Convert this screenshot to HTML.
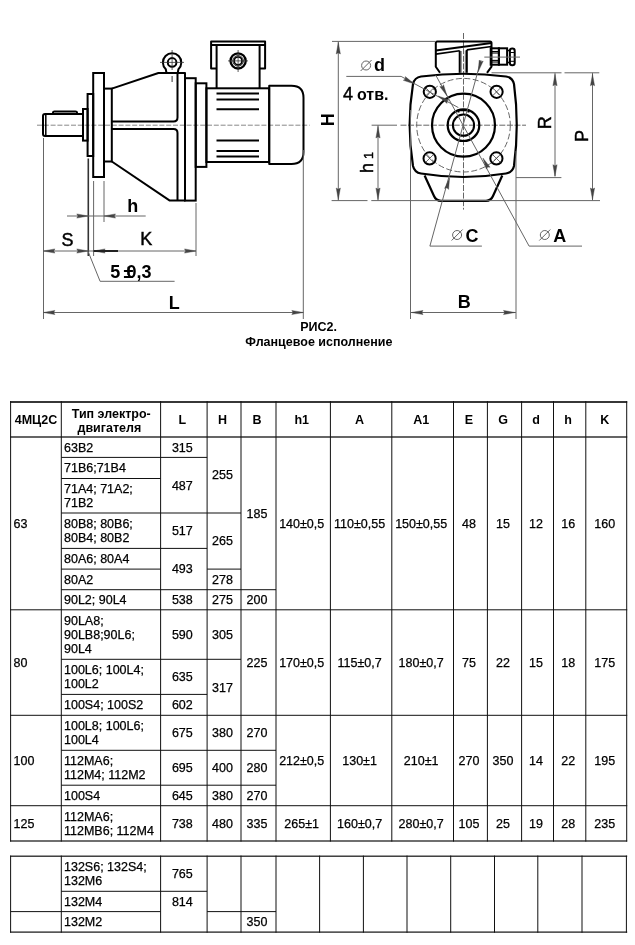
<!DOCTYPE html>
<html><head><meta charset="utf-8"><style>
html,body{margin:0;padding:0;background:#fff;}
svg{display:block;font-family:"Liberation Sans",sans-serif;will-change:transform;}
</style></head><body>
<svg width="635" height="945" viewBox="0 0 635 945">
<rect width="635" height="945" fill="#fff"/>
<line x1="37" y1="125.2" x2="309.6" y2="125.2" stroke="#888" stroke-width="1" stroke-dasharray="5 1.8"/>
<path d="M45,114 L83,114 L83,136 L45,136 Q43,136 43,134 L43,116 Q43,114 45,114 Z" fill="none" stroke="#000" stroke-width="2" stroke-linejoin="round" />
<line x1="45.8" y1="115" x2="45.8" y2="135" stroke="#000" stroke-width="1.5" />
<path d="M53,114 L53,112.5 Q53,111.5 54.5,111.5 L75.5,111.5 Q77,111.5 77,112.5 L77,114" fill="none" stroke="#000" stroke-width="2" stroke-linejoin="round" />
<rect x="83" y="109" width="4.6" height="31.6" fill="none" stroke="#000" stroke-width="2"/>
<rect x="87.6" y="94" width="5.6" height="62" fill="none" stroke="#000" stroke-width="2"/>
<rect x="93.2" y="73" width="10.8" height="104" fill="none" stroke="#000" stroke-width="2"/>
<rect x="104" y="88.6" width="7.8" height="72.9" fill="none" stroke="#000" stroke-width="2"/>
<path d="M111.8,88.6 L158.4,73 L185,73 L185,200.6 L169.8,200.6 L111.8,161.5" fill="none" stroke="#000" stroke-width="2" stroke-linejoin="round" />
<path d="M177.5,73 L177.5,117.5 Q177.5,121.5 173.5,121.5 L111.8,121.5" fill="none" stroke="#000" stroke-width="2" stroke-linejoin="round" />
<path d="M111.8,129 L173.5,129 Q177.5,129 177.5,133 L177.5,200.6" fill="none" stroke="#000" stroke-width="2" stroke-linejoin="round" />
<rect x="185" y="78.2" width="10.7" height="122.4" fill="none" stroke="#000" stroke-width="2"/>
<rect x="195.7" y="83.3" width="10.7" height="83.6" fill="none" stroke="#000" stroke-width="2"/>
<rect x="206.4" y="88.3" width="62.8" height="73.7" fill="none" stroke="#000" stroke-width="2"/>
<line x1="216.5" y1="93.5" x2="259" y2="93.5" stroke="#000" stroke-width="2" />
<line x1="216.5" y1="99.5" x2="259" y2="99.5" stroke="#000" stroke-width="2" />
<line x1="216.5" y1="109.2" x2="259" y2="109.2" stroke="#000" stroke-width="2" />
<line x1="216.5" y1="140.6" x2="259" y2="140.6" stroke="#000" stroke-width="2" />
<line x1="216.5" y1="151" x2="259" y2="151" stroke="#000" stroke-width="2" />
<line x1="216.5" y1="156.6" x2="259" y2="156.6" stroke="#000" stroke-width="2" />
<path d="M269.2,85.8 L291.5,85.8 Q303.5,85.8 303.5,97.8 L303.5,152 Q303.5,164 291.5,164 L269.2,164 Z" fill="none" stroke="#000" stroke-width="2" stroke-linejoin="round" />
<path d="M216.6,68.6 L211.1,68.6 L211.1,41.4 L265.1,41.4 L265.1,68.6 L259.6,68.6" fill="none" stroke="#000" stroke-width="2" stroke-linejoin="round" />
<line x1="211.1" y1="44.9" x2="265.1" y2="44.9" stroke="#000" stroke-width="2" />
<line x1="216.6" y1="44.9" x2="216.6" y2="88.3" stroke="#000" stroke-width="2" />
<line x1="259.6" y1="44.9" x2="259.6" y2="88.3" stroke="#000" stroke-width="2" />
<circle cx="238.1" cy="60.9" r="7.6" fill="none" stroke="#000" stroke-width="2.3" />
<circle cx="238.1" cy="60.9" r="5.3" fill="none" stroke="#000" stroke-width="0.8" />
<circle cx="238.1" cy="60.9" r="3.9" fill="none" stroke="#000" stroke-width="1.7" />
<line x1="228" y1="60.9" x2="248" y2="60.9" stroke="#333" stroke-width="0.8" />
<line x1="238.1" y1="50" x2="238.1" y2="72" stroke="#333" stroke-width="0.8" />
<path d="M166.5,73 L165.8,69.2 A9.2,9.2 0 1 1 178.4,69.2 L177.7,73" fill="none" stroke="#000" stroke-width="2" stroke-linejoin="round" />
<circle cx="172.1" cy="62.4" r="4.3" fill="none" stroke="#000" stroke-width="2" />
<line x1="160" y1="62.4" x2="184" y2="62.4" stroke="#333" stroke-width="0.8" />
<line x1="172.1" y1="50" x2="172.1" y2="70" stroke="#333" stroke-width="0.8" />
<line x1="172.1" y1="76" x2="172.1" y2="82" stroke="#333" stroke-width="1" />
<line x1="43.5" y1="138" x2="43.5" y2="319" stroke="#666" stroke-width="1" />
<line x1="93.6" y1="181" x2="93.6" y2="256" stroke="#666" stroke-width="1" />
<line x1="104" y1="181" x2="104" y2="222" stroke="#666" stroke-width="1" />
<line x1="196" y1="203" x2="196" y2="256" stroke="#666" stroke-width="1" />
<line x1="303.3" y1="150" x2="303.3" y2="319" stroke="#666" stroke-width="1" />
<line x1="88.3" y1="158.5" x2="88.3" y2="256" stroke="#333" stroke-width="1.6" />
<line x1="67" y1="216" x2="145.7" y2="216" stroke="#666" stroke-width="1" />
<path d="M88.3,216.0 L76.8,218.1 L78.0,216.0 L76.8,213.9 Z" fill="#444" stroke="#444" stroke-width="0.4"/>
<path d="M104.0,216.0 L115.5,213.9 L114.3,216.0 L115.5,218.1 Z" fill="#444" stroke="#444" stroke-width="0.4"/>
<line x1="43.4" y1="251" x2="196" y2="251" stroke="#666" stroke-width="1" />
<path d="M43.4,251.0 L54.9,248.9 L53.7,251.0 L54.9,253.1 Z" fill="#444" stroke="#444" stroke-width="0.4"/>
<path d="M88.3,251.0 L76.8,253.1 L78.0,251.0 L76.8,248.9 Z" fill="#444" stroke="#444" stroke-width="0.4"/>
<path d="M93.6,251.0 L105.1,248.9 L103.9,251.0 L105.1,253.1 Z" fill="#444" stroke="#444" stroke-width="0.4"/>
<path d="M196.0,251.0 L184.5,253.1 L185.7,251.0 L184.5,248.9 Z" fill="#444" stroke="#444" stroke-width="0.4"/>
<line x1="93.6" y1="251" x2="118" y2="251" stroke="#222" stroke-width="2" />
<line x1="43.4" y1="312.5" x2="303.3" y2="312.5" stroke="#666" stroke-width="1" />
<path d="M43.4,312.5 L54.9,310.4 L53.7,312.5 L54.9,314.6 Z" fill="#444" stroke="#444" stroke-width="0.4"/>
<path d="M303.3,312.5 L291.8,314.6 L293.0,312.5 L291.8,310.4 Z" fill="#444" stroke="#444" stroke-width="0.4"/>
<path d="M88.3,252 L100.1,281.3 L174.6,281.3" fill="none" stroke="#666" stroke-width="1" stroke-linejoin="round" />
<text x="0" y="0" font-size="18" font-weight="normal" text-anchor="start" fill="#000" transform="translate(61.6,245.7) scale(1,1.05)" stroke="#000" stroke-width="0.45">S</text>
<text x="0" y="0" font-size="18" font-weight="normal" text-anchor="start" fill="#000" transform="translate(140.2,245.4) scale(1,1.05)" stroke="#000" stroke-width="0.45">K</text>
<text x="0" y="0" font-size="18" font-weight="bold" text-anchor="start" fill="#000" transform="translate(127.2,211.9) scale(1,1.05)">h</text>
<text x="0" y="0" font-size="18" font-weight="bold" text-anchor="start" fill="#000" transform="translate(168.7,308.9) scale(1,1.05)">L</text>
<text x="0" y="0" font-size="18" font-weight="bold" text-anchor="start" fill="#000" transform="translate(110.3,278.1) scale(1,1.05)">5</text>
<text x="0" y="0" font-size="18" font-weight="bold" text-anchor="start" fill="#000" transform="translate(126.4,278.1) scale(1,1.05)">0,3</text>
<text x="0" y="0" font-size="18" font-weight="bold" text-anchor="start" fill="#000" transform="translate(123.6,278.1) scale(1,1.05)">±</text>
<line x1="463.5" y1="33" x2="463.5" y2="209.6" stroke="#666" stroke-width="1" stroke-dasharray="6 1.6"/>
<line x1="371.6" y1="125.2" x2="397" y2="125.2" stroke="#666" stroke-width="1" />
<line x1="400.5" y1="125.2" x2="526" y2="125.2" stroke="#666" stroke-width="1" stroke-dasharray="6 1.6"/>
<circle cx="463.5" cy="125.2" r="46.8" fill="none" stroke="#666" stroke-width="1" stroke-dasharray="6 2.5"/>
<path d="M421,76.5 Q463.5,71 506,76.5 Q512.5,77.5 514,84 Q519.5,125 514,166 Q512.5,172.5 506,173.5 Q463.5,180.5 421,173.5 Q414.5,172.5 413,166 Q406.3,125 413,84 Q414.5,77.5 421,76.5 Z" fill="none" stroke="#000" stroke-width="2.2" stroke-linejoin="round" />
<path d="M424.6,175.5 L434,196 Q436,200.8 441,200.8 L486,200.8 Q491,200.8 493,196 L502.3,175.5" fill="none" stroke="#000" stroke-width="2.2" stroke-linejoin="round" />
<circle cx="429.8" cy="91.8" r="6.1" fill="none" stroke="#000" stroke-width="2" />
<line x1="425.8" y1="87.8" x2="433.8" y2="95.8" stroke="#444" stroke-width="0.8" />
<line x1="425.8" y1="95.8" x2="433.8" y2="87.8" stroke="#444" stroke-width="0.8" />
<circle cx="496.6" cy="91.8" r="6.1" fill="none" stroke="#000" stroke-width="2" />
<line x1="492.6" y1="87.8" x2="500.6" y2="95.8" stroke="#444" stroke-width="0.8" />
<line x1="492.6" y1="95.8" x2="500.6" y2="87.8" stroke="#444" stroke-width="0.8" />
<circle cx="429.6" cy="158.4" r="6.1" fill="none" stroke="#000" stroke-width="2" />
<line x1="425.6" y1="154.4" x2="433.6" y2="162.4" stroke="#444" stroke-width="0.8" />
<line x1="425.6" y1="162.4" x2="433.6" y2="154.4" stroke="#444" stroke-width="0.8" />
<circle cx="496.4" cy="158.4" r="6.1" fill="none" stroke="#000" stroke-width="2" />
<line x1="492.4" y1="154.4" x2="500.4" y2="162.4" stroke="#444" stroke-width="0.8" />
<line x1="492.4" y1="162.4" x2="500.4" y2="154.4" stroke="#444" stroke-width="0.8" />
<circle cx="463.5" cy="125.2" r="31.5" fill="none" stroke="#000" stroke-width="2.2" />
<circle cx="463.5" cy="125.2" r="15.8" fill="none" stroke="#000" stroke-width="2.2" />
<circle cx="463.5" cy="125.2" r="10.6" fill="none" stroke="#000" stroke-width="2" />
<path d="M458.5,112.5 L458.5,110.3 L468.5,110.3 L468.5,112.5" fill="none" stroke="#000" stroke-width="2" stroke-linejoin="round" />
<path d="M440,72.8 L435.8,66.7 L435.8,43 Q435.8,41.5 437.3,41.5 L490,41.5 Q491.5,41.5 491.5,43 L491.5,66.7 L487,72.8" fill="none" stroke="#000" stroke-width="2" stroke-linejoin="round" />
<line x1="435.8" y1="50.6" x2="491.5" y2="43" stroke="#000" stroke-width="2" />
<line x1="435.8" y1="54.1" x2="459.7" y2="50.8" stroke="#000" stroke-width="1.6" />
<line x1="466.8" y1="49.9" x2="491.5" y2="46.5" stroke="#000" stroke-width="1.6" />
<line x1="459.7" y1="50.8" x2="459.7" y2="72.8" stroke="#000" stroke-width="2" />
<line x1="466.8" y1="49.9" x2="466.8" y2="72.8" stroke="#000" stroke-width="2" />
<line x1="461.2" y1="51" x2="461.2" y2="72.8" stroke="#444" stroke-width="0.8" />
<line x1="465.3" y1="50.5" x2="465.3" y2="72.8" stroke="#444" stroke-width="0.8" />
<rect x="490.7" y="48.3" width="8.2" height="16.4" fill="none" stroke="#000" stroke-width="2"/>
<rect x="498.9" y="48.3" width="8.2" height="16.4" fill="none" stroke="#000" stroke-width="2"/>
<line x1="490.7" y1="51.5" x2="498.9" y2="51.5" stroke="#000" stroke-width="1.1" />
<line x1="490.7" y1="53" x2="498.9" y2="53" stroke="#000" stroke-width="1.1" />
<line x1="490.7" y1="60.4" x2="498.9" y2="60.4" stroke="#000" stroke-width="1.1" />
<line x1="490.7" y1="62" x2="498.9" y2="62" stroke="#000" stroke-width="1.1" />
<line x1="507.1" y1="50.5" x2="509.9" y2="50.5" stroke="#000" stroke-width="1.6" />
<line x1="507.1" y1="62.5" x2="509.9" y2="62.5" stroke="#000" stroke-width="1.6" />
<rect x="509.9" y="48.6" width="4.8" height="16.7" rx="2.3" fill="none" stroke="#000" stroke-width="2"/>
<line x1="509.9" y1="52.5" x2="514.7" y2="52.5" stroke="#000" stroke-width="1" />
<line x1="509.9" y1="61.3" x2="514.7" y2="61.3" stroke="#000" stroke-width="1" />
<line x1="484.3" y1="57.1" x2="520" y2="57.1" stroke="#666" stroke-width="1" />
<line x1="332" y1="41.4" x2="436" y2="41.4" stroke="#666" stroke-width="1" />
<line x1="338.3" y1="41.4" x2="338.3" y2="200.5" stroke="#666" stroke-width="1" />
<path d="M338.3,42.5 L340.4,54.0 L338.3,52.8 L336.2,54.0 Z" fill="#444" stroke="#444" stroke-width="0.4"/>
<path d="M338.3,199.5 L336.2,188.0 L338.3,189.2 L340.4,188.0 Z" fill="#444" stroke="#444" stroke-width="0.4"/>
<line x1="331.6" y1="200.6" x2="367.5" y2="200.6" stroke="#666" stroke-width="1" />
<line x1="371.3" y1="200.6" x2="600" y2="200.6" stroke="#666" stroke-width="1" />
<line x1="378" y1="125.2" x2="378" y2="200.5" stroke="#666" stroke-width="1" />
<path d="M378.0,126.5 L380.1,138.0 L378.0,136.8 L375.9,138.0 Z" fill="#444" stroke="#444" stroke-width="0.4"/>
<path d="M378.0,199.5 L375.9,188.0 L378.0,189.2 L380.1,188.0 Z" fill="#444" stroke="#444" stroke-width="0.4"/>
<line x1="491.5" y1="72.8" x2="561.5" y2="72.8" stroke="#666" stroke-width="1" />
<line x1="564.5" y1="72.8" x2="599.3" y2="72.8" stroke="#666" stroke-width="1" />
<line x1="516" y1="177.6" x2="561.4" y2="177.6" stroke="#666" stroke-width="1" />
<line x1="555" y1="72.8" x2="555" y2="176.4" stroke="#666" stroke-width="1" />
<path d="M555.0,74.3 L557.1,85.8 L555.0,84.6 L552.9,85.8 Z" fill="#444" stroke="#444" stroke-width="0.4"/>
<path d="M555.0,176.2 L552.9,164.7 L555.0,165.9 L557.1,164.7 Z" fill="#444" stroke="#444" stroke-width="0.4"/>
<line x1="592.5" y1="72.8" x2="592.5" y2="200.5" stroke="#666" stroke-width="1" />
<path d="M592.5,74.3 L594.6,85.8 L592.5,84.6 L590.4,85.8 Z" fill="#444" stroke="#444" stroke-width="0.4"/>
<path d="M592.5,199.5 L590.4,188.0 L592.5,189.2 L594.6,188.0 Z" fill="#444" stroke="#444" stroke-width="0.4"/>
<line x1="410.5" y1="110" x2="410.5" y2="319" stroke="#666" stroke-width="1" />
<line x1="516" y1="151" x2="516" y2="319" stroke="#666" stroke-width="1" />
<line x1="410.5" y1="312.5" x2="516" y2="312.5" stroke="#666" stroke-width="1" />
<path d="M411.5,312.5 L423.0,310.4 L421.8,312.5 L423.0,314.6 Z" fill="#444" stroke="#444" stroke-width="0.4"/>
<path d="M515.0,312.5 L503.5,314.6 L504.7,312.5 L503.5,310.4 Z" fill="#444" stroke="#444" stroke-width="0.4"/>
<path d="M346.3,76.4 L401.1,76.4 L458.4,107.6" fill="none" stroke="#666" stroke-width="1" stroke-linejoin="round" />
<path d="M414.4,84.0 L403.3,80.3 L405.4,79.0 L405.3,76.6 Z" fill="#444" stroke="#444" stroke-width="0.4"/>
<path d="M438.0,96.0 L449.1,99.7 L447.0,101.0 L447.1,103.4 Z" fill="#444" stroke="#444" stroke-width="0.4"/>
<path d="M481.9,246.1 L429.9,246.1 L481,60" fill="none" stroke="#666" stroke-width="1" stroke-linejoin="round" />
<path d="M449.6,177.8 L448.6,189.4 L446.9,187.7 L444.6,188.4 Z" fill="#444" stroke="#444" stroke-width="0.4"/>
<path d="M478.2,71.7 L479.2,60.1 L480.9,61.8 L483.2,61.1 Z" fill="#444" stroke="#444" stroke-width="0.4"/>
<path d="M582,246.1 L529.1,246.1 L435.7,75" fill="none" stroke="#666" stroke-width="1" stroke-linejoin="round" />
<path d="M482.9,158.0 L490.1,167.2 L487.7,167.1 L486.4,169.1 Z" fill="#444" stroke="#444" stroke-width="0.4"/>
<path d="M447.0,95.8 L439.8,86.6 L442.2,86.7 L443.5,84.7 Z" fill="#444" stroke="#444" stroke-width="0.4"/>
<text x="0" y="0" font-size="18" font-weight="bold" text-anchor="start" fill="#000" transform="translate(333.8,126.2) rotate(-90)">H</text>
<text x="0" y="0" font-size="18" font-weight="normal" text-anchor="start" fill="#000" transform="translate(373.4,172.9) rotate(-90)" stroke="#000" stroke-width="0.45">h</text>
<text x="0" y="0" font-size="12.5" font-weight="normal" text-anchor="start" fill="#000" transform="translate(373.4,159) rotate(-90)" stroke="#000" stroke-width="0.45">1</text>
<text x="0" y="0" font-size="18" font-weight="normal" text-anchor="start" fill="#000" transform="translate(550.5,129.2) rotate(-90)" stroke="#000" stroke-width="0.45">R</text>
<text x="0" y="0" font-size="18" font-weight="normal" text-anchor="start" fill="#000" transform="translate(588,141.9) rotate(-90)" stroke="#000" stroke-width="0.45">P</text>
<text x="0" y="0" font-size="18" font-weight="bold" text-anchor="start" fill="#000" transform="translate(374,70.7) scale(1,1.05)">d</text>
<text x="0" y="0" font-size="18" font-weight="normal" text-anchor="start" fill="#000" transform="translate(343,100.1) scale(1,1.05)" stroke="#000" stroke-width="0.45">4</text>
<text x="0" y="0" font-size="16" font-weight="bold" text-anchor="start" fill="#000" transform="translate(357,100.1) scale(1,1.05)">отв.</text>
<text x="0" y="0" font-size="18" font-weight="bold" text-anchor="start" fill="#000" transform="translate(465.6,242.2) scale(1,1.05)">C</text>
<text x="0" y="0" font-size="18" font-weight="bold" text-anchor="start" fill="#000" transform="translate(553.2,242.2) scale(1,1.05)">A</text>
<text x="0" y="0" font-size="18" font-weight="bold" text-anchor="start" fill="#000" transform="translate(457.8,307.9) scale(1,1.05)">B</text>
<circle cx="366.1" cy="65.5" r="4.5" fill="none" stroke="#666" stroke-width="1" />
<line x1="360.6" y1="71.0" x2="371.6" y2="60.0" stroke="#666" stroke-width="1" />
<circle cx="457.1" cy="235" r="4.5" fill="none" stroke="#666" stroke-width="1" />
<line x1="451.6" y1="240.5" x2="462.6" y2="229.5" stroke="#666" stroke-width="1" />
<circle cx="544.8" cy="235" r="4.5" fill="none" stroke="#666" stroke-width="1" />
<line x1="539.3" y1="240.5" x2="550.3" y2="229.5" stroke="#666" stroke-width="1" />
<text x="318.6" y="331.2" font-size="12.5" font-weight="bold" text-anchor="middle" fill="#000" >РИС2.</text>
<text x="318.9" y="345.6" font-size="12.5" font-weight="bold" text-anchor="middle" fill="#000" >Фланцевое исполнение</text>
<rect x="10.1" y="401.1" width="617.1" height="1.8" fill="#222"/>
<rect x="10.1" y="436.25" width="617.1" height="1.5" fill="#333"/>
<rect x="10.1" y="609.3" width="617.1" height="1" fill="#111"/>
<rect x="10.1" y="714.8" width="617.1" height="1" fill="#111"/>
<rect x="10.1" y="805.2" width="617.1" height="1" fill="#111"/>
<rect x="10.1" y="840.4" width="617.1" height="1.2" fill="#111"/>
<rect x="61.3" y="456.9" width="145.8" height="1" fill="#111"/>
<rect x="61.3" y="478.0" width="99.3" height="1" fill="#111"/>
<rect x="61.3" y="512.5" width="179.7" height="1" fill="#111"/>
<rect x="61.3" y="547.9" width="145.8" height="1" fill="#111"/>
<rect x="61.3" y="568.6" width="99.3" height="1" fill="#111"/>
<rect x="207.1" y="568.6" width="33.9" height="1" fill="#111"/>
<rect x="61.3" y="589.2" width="214.7" height="1" fill="#111"/>
<rect x="61.3" y="658.8" width="179.7" height="1" fill="#111"/>
<rect x="61.3" y="693.9" width="145.8" height="1" fill="#111"/>
<rect x="61.3" y="749.8" width="214.7" height="1" fill="#111"/>
<rect x="61.3" y="784.7" width="214.7" height="1" fill="#111"/>
<rect x="10.1" y="401.1" width="1" height="440.5" fill="#111"/>
<rect x="60.8" y="401.1" width="1" height="440.5" fill="#111"/>
<rect x="160.1" y="401.1" width="1" height="440.5" fill="#111"/>
<rect x="206.6" y="401.1" width="1" height="440.5" fill="#111"/>
<rect x="240.5" y="401.1" width="1" height="440.5" fill="#111"/>
<rect x="275.5" y="401.1" width="1" height="440.5" fill="#111"/>
<rect x="329.9" y="401.1" width="1" height="440.5" fill="#111"/>
<rect x="391.3" y="401.1" width="1" height="440.5" fill="#111"/>
<rect x="453.0" y="401.1" width="1" height="440.5" fill="#111"/>
<rect x="486.9" y="401.1" width="1" height="440.5" fill="#111"/>
<rect x="521.1" y="401.1" width="1" height="440.5" fill="#111"/>
<rect x="553.0" y="401.1" width="1" height="440.5" fill="#111"/>
<rect x="585.3" y="401.1" width="1" height="440.5" fill="#111"/>
<rect x="626.2" y="401.1" width="1" height="440.5" fill="#111"/>
<rect x="10.1" y="855.5500000000001" width="617.1" height="1.3" fill="#222"/>
<rect x="10.1" y="931.5" width="617.1" height="1.2" fill="#111"/>
<rect x="61.3" y="890.8" width="145.8" height="1" fill="#111"/>
<rect x="10.6" y="911.1" width="150.0" height="1" fill="#111"/>
<rect x="207.1" y="911.1" width="68.9" height="1" fill="#111"/>
<rect x="10.1" y="855.6" width="1" height="77.1" fill="#111"/>
<rect x="60.8" y="855.6" width="1" height="77.1" fill="#111"/>
<rect x="160.1" y="855.6" width="1" height="77.1" fill="#111"/>
<rect x="206.6" y="855.6" width="1" height="77.1" fill="#111"/>
<rect x="240.5" y="855.6" width="1" height="77.1" fill="#111"/>
<rect x="275.5" y="855.6" width="1" height="77.1" fill="#111"/>
<rect x="319.1" y="855.6" width="1" height="77.1" fill="#111"/>
<rect x="362.9" y="855.6" width="1" height="77.1" fill="#111"/>
<rect x="406.5" y="855.6" width="1" height="77.1" fill="#111"/>
<rect x="450.2" y="855.6" width="1" height="77.1" fill="#111"/>
<rect x="494.0" y="855.6" width="1" height="77.1" fill="#111"/>
<rect x="537.3" y="855.6" width="1" height="77.1" fill="#111"/>
<rect x="581.5" y="855.6" width="1" height="77.1" fill="#111"/>
<rect x="625.9" y="855.6" width="1" height="77.1" fill="#111"/>
<text x="35.95" y="423.9" font-size="12.5" font-weight="bold" text-anchor="middle" fill="#000" >4МЦ2С</text>
<text x="182.35" y="423.9" font-size="12.5" font-weight="bold" text-anchor="middle" fill="#000" >L</text>
<text x="222.55" y="423.9" font-size="12.5" font-weight="bold" text-anchor="middle" fill="#000" >H</text>
<text x="257.0" y="423.9" font-size="12.5" font-weight="bold" text-anchor="middle" fill="#000" >B</text>
<text x="301.7" y="423.9" font-size="12.5" font-weight="bold" text-anchor="middle" fill="#000" >h1</text>
<text x="359.6" y="423.9" font-size="12.5" font-weight="bold" text-anchor="middle" fill="#000" >A</text>
<text x="421.15" y="423.9" font-size="12.5" font-weight="bold" text-anchor="middle" fill="#000" >A1</text>
<text x="468.95" y="423.9" font-size="12.5" font-weight="bold" text-anchor="middle" fill="#000" >E</text>
<text x="503.0" y="423.9" font-size="12.5" font-weight="bold" text-anchor="middle" fill="#000" >G</text>
<text x="536.05" y="423.9" font-size="12.5" font-weight="bold" text-anchor="middle" fill="#000" >d</text>
<text x="568.15" y="423.9" font-size="12.5" font-weight="bold" text-anchor="middle" fill="#000" >h</text>
<text x="604.75" y="423.9" font-size="12.5" font-weight="bold" text-anchor="middle" fill="#000" >K</text>
<text x="111.25" y="418.1" font-size="12.5" font-weight="bold" text-anchor="middle" fill="#000" >Тип электро-</text>
<text x="109.35" y="432" font-size="12.5" font-weight="bold" text-anchor="middle" fill="#000" >двигателя</text>
<text x="13.5" y="527.8" font-size="12.5" font-weight="normal" text-anchor="start" fill="#000" stroke="#000" stroke-width="0.25">63</text>
<text x="13.5" y="666.95" font-size="12.5" font-weight="normal" text-anchor="start" fill="#000" stroke="#000" stroke-width="0.25">80</text>
<text x="13.5" y="764.9" font-size="12.5" font-weight="normal" text-anchor="start" fill="#000" stroke="#000" stroke-width="0.25">100</text>
<text x="13.5" y="827.75" font-size="12.5" font-weight="normal" text-anchor="start" fill="#000" stroke="#000" stroke-width="0.25">125</text>
<text x="64" y="451.6" font-size="12.5" font-weight="normal" text-anchor="start" fill="#000" stroke="#000" stroke-width="0.25">63B2</text>
<text x="64" y="472.35" font-size="12.5" font-weight="normal" text-anchor="start" fill="#000" stroke="#000" stroke-width="0.25">71B6;71B4</text>
<text x="64" y="493.05" font-size="12.5" font-weight="normal" text-anchor="start" fill="#000" stroke="#000" stroke-width="0.25">71A4; 71A2;</text>
<text x="64" y="507.25" font-size="12.5" font-weight="normal" text-anchor="start" fill="#000" stroke="#000" stroke-width="0.25">71B2</text>
<text x="64" y="528.0" font-size="12.5" font-weight="normal" text-anchor="start" fill="#000" stroke="#000" stroke-width="0.25">80B8; 80B6;</text>
<text x="64" y="542.2" font-size="12.5" font-weight="normal" text-anchor="start" fill="#000" stroke="#000" stroke-width="0.25">80B4; 80B2</text>
<text x="64" y="563.15" font-size="12.5" font-weight="normal" text-anchor="start" fill="#000" stroke="#000" stroke-width="0.25">80A6; 80A4</text>
<text x="64" y="583.8" font-size="12.5" font-weight="normal" text-anchor="start" fill="#000" stroke="#000" stroke-width="0.25">80A2</text>
<text x="64" y="604.15" font-size="12.5" font-weight="normal" text-anchor="start" fill="#000" stroke="#000" stroke-width="0.25">90L2; 90L4</text>
<text x="64" y="624.75" font-size="12.5" font-weight="normal" text-anchor="start" fill="#000" stroke="#000" stroke-width="0.25">90LA8;</text>
<text x="64" y="638.95" font-size="12.5" font-weight="normal" text-anchor="start" fill="#000" stroke="#000" stroke-width="0.25">90LB8;90L6;</text>
<text x="64" y="653.15" font-size="12.5" font-weight="normal" text-anchor="start" fill="#000" stroke="#000" stroke-width="0.25">90L4</text>
<text x="64" y="674.15" font-size="12.5" font-weight="normal" text-anchor="start" fill="#000" stroke="#000" stroke-width="0.25">100L6; 100L4;</text>
<text x="64" y="688.35" font-size="12.5" font-weight="normal" text-anchor="start" fill="#000" stroke="#000" stroke-width="0.25">100L2</text>
<text x="64" y="709.25" font-size="12.5" font-weight="normal" text-anchor="start" fill="#000" stroke="#000" stroke-width="0.25">100S4; 100S2</text>
<text x="64" y="730.1" font-size="12.5" font-weight="normal" text-anchor="start" fill="#000" stroke="#000" stroke-width="0.25">100L8; 100L6;</text>
<text x="64" y="744.3" font-size="12.5" font-weight="normal" text-anchor="start" fill="#000" stroke="#000" stroke-width="0.25">100L4</text>
<text x="64" y="765.05" font-size="12.5" font-weight="normal" text-anchor="start" fill="#000" stroke="#000" stroke-width="0.25">112MA6;</text>
<text x="64" y="779.25" font-size="12.5" font-weight="normal" text-anchor="start" fill="#000" stroke="#000" stroke-width="0.25">112M4; 112M2</text>
<text x="64" y="799.85" font-size="12.5" font-weight="normal" text-anchor="start" fill="#000" stroke="#000" stroke-width="0.25">100S4</text>
<text x="64" y="820.65" font-size="12.5" font-weight="normal" text-anchor="start" fill="#000" stroke="#000" stroke-width="0.25">112MA6;</text>
<text x="64" y="834.85" font-size="12.5" font-weight="normal" text-anchor="start" fill="#000" stroke="#000" stroke-width="0.25">112MB6; 112M4</text>
<text x="64" y="871.05" font-size="12.5" font-weight="normal" text-anchor="start" fill="#000" stroke="#000" stroke-width="0.25">132S6; 132S4;</text>
<text x="64" y="885.25" font-size="12.5" font-weight="normal" text-anchor="start" fill="#000" stroke="#000" stroke-width="0.25">132M6</text>
<text x="64" y="905.85" font-size="12.5" font-weight="normal" text-anchor="start" fill="#000" stroke="#000" stroke-width="0.25">132M4</text>
<text x="64" y="926.25" font-size="12.5" font-weight="normal" text-anchor="start" fill="#000" stroke="#000" stroke-width="0.25">132M2</text>
<text x="182.35" y="451.6" font-size="12.5" font-weight="normal" text-anchor="middle" fill="#000" stroke="#000" stroke-width="0.25">315</text>
<text x="182.35" y="489.6" font-size="12.5" font-weight="normal" text-anchor="middle" fill="#000" stroke="#000" stroke-width="0.25">487</text>
<text x="182.35" y="535.1" font-size="12.5" font-weight="normal" text-anchor="middle" fill="#000" stroke="#000" stroke-width="0.25">517</text>
<text x="182.35" y="573.45" font-size="12.5" font-weight="normal" text-anchor="middle" fill="#000" stroke="#000" stroke-width="0.25">493</text>
<text x="182.35" y="604.15" font-size="12.5" font-weight="normal" text-anchor="middle" fill="#000" stroke="#000" stroke-width="0.25">538</text>
<text x="182.35" y="638.95" font-size="12.5" font-weight="normal" text-anchor="middle" fill="#000" stroke="#000" stroke-width="0.25">590</text>
<text x="182.35" y="681.25" font-size="12.5" font-weight="normal" text-anchor="middle" fill="#000" stroke="#000" stroke-width="0.25">635</text>
<text x="182.35" y="709.25" font-size="12.5" font-weight="normal" text-anchor="middle" fill="#000" stroke="#000" stroke-width="0.25">602</text>
<text x="182.35" y="737.2" font-size="12.5" font-weight="normal" text-anchor="middle" fill="#000" stroke="#000" stroke-width="0.25">675</text>
<text x="182.35" y="772.15" font-size="12.5" font-weight="normal" text-anchor="middle" fill="#000" stroke="#000" stroke-width="0.25">695</text>
<text x="182.35" y="799.85" font-size="12.5" font-weight="normal" text-anchor="middle" fill="#000" stroke="#000" stroke-width="0.25">645</text>
<text x="182.35" y="827.75" font-size="12.5" font-weight="normal" text-anchor="middle" fill="#000" stroke="#000" stroke-width="0.25">738</text>
<text x="182.35" y="878.15" font-size="12.5" font-weight="normal" text-anchor="middle" fill="#000" stroke="#000" stroke-width="0.25">765</text>
<text x="182.35" y="905.85" font-size="12.5" font-weight="normal" text-anchor="middle" fill="#000" stroke="#000" stroke-width="0.25">814</text>
<text x="222.55" y="479.4" font-size="12.5" font-weight="normal" text-anchor="middle" fill="#000" stroke="#000" stroke-width="0.25">255</text>
<text x="222.55" y="545.45" font-size="12.5" font-weight="normal" text-anchor="middle" fill="#000" stroke="#000" stroke-width="0.25">265</text>
<text x="222.55" y="583.8" font-size="12.5" font-weight="normal" text-anchor="middle" fill="#000" stroke="#000" stroke-width="0.25">278</text>
<text x="222.55" y="604.15" font-size="12.5" font-weight="normal" text-anchor="middle" fill="#000" stroke="#000" stroke-width="0.25">275</text>
<text x="222.55" y="638.95" font-size="12.5" font-weight="normal" text-anchor="middle" fill="#000" stroke="#000" stroke-width="0.25">305</text>
<text x="222.55" y="691.7" font-size="12.5" font-weight="normal" text-anchor="middle" fill="#000" stroke="#000" stroke-width="0.25">317</text>
<text x="222.55" y="737.2" font-size="12.5" font-weight="normal" text-anchor="middle" fill="#000" stroke="#000" stroke-width="0.25">380</text>
<text x="222.55" y="772.15" font-size="12.5" font-weight="normal" text-anchor="middle" fill="#000" stroke="#000" stroke-width="0.25">400</text>
<text x="222.55" y="799.85" font-size="12.5" font-weight="normal" text-anchor="middle" fill="#000" stroke="#000" stroke-width="0.25">380</text>
<text x="222.55" y="827.75" font-size="12.5" font-weight="normal" text-anchor="middle" fill="#000" stroke="#000" stroke-width="0.25">480</text>
<text x="257.0" y="517.75" font-size="12.5" font-weight="normal" text-anchor="middle" fill="#000" stroke="#000" stroke-width="0.25">185</text>
<text x="257.0" y="604.15" font-size="12.5" font-weight="normal" text-anchor="middle" fill="#000" stroke="#000" stroke-width="0.25">200</text>
<text x="257.0" y="666.95" font-size="12.5" font-weight="normal" text-anchor="middle" fill="#000" stroke="#000" stroke-width="0.25">225</text>
<text x="257.0" y="737.2" font-size="12.5" font-weight="normal" text-anchor="middle" fill="#000" stroke="#000" stroke-width="0.25">270</text>
<text x="257.0" y="772.15" font-size="12.5" font-weight="normal" text-anchor="middle" fill="#000" stroke="#000" stroke-width="0.25">280</text>
<text x="257.0" y="799.85" font-size="12.5" font-weight="normal" text-anchor="middle" fill="#000" stroke="#000" stroke-width="0.25">270</text>
<text x="257.0" y="827.75" font-size="12.5" font-weight="normal" text-anchor="middle" fill="#000" stroke="#000" stroke-width="0.25">335</text>
<text x="257.0" y="926.25" font-size="12.5" font-weight="normal" text-anchor="middle" fill="#000" stroke="#000" stroke-width="0.25">350</text>
<text x="301.7" y="527.8" font-size="12.5" font-weight="normal" text-anchor="middle" fill="#000" stroke="#000" stroke-width="0.25">140±0,5</text>
<text x="301.7" y="666.95" font-size="12.5" font-weight="normal" text-anchor="middle" fill="#000" stroke="#000" stroke-width="0.25">170±0,5</text>
<text x="301.7" y="764.9" font-size="12.5" font-weight="normal" text-anchor="middle" fill="#000" stroke="#000" stroke-width="0.25">212±0,5</text>
<text x="301.7" y="827.75" font-size="12.5" font-weight="normal" text-anchor="middle" fill="#000" stroke="#000" stroke-width="0.25">265±1</text>
<text x="359.6" y="527.8" font-size="12.5" font-weight="normal" text-anchor="middle" fill="#000" stroke="#000" stroke-width="0.25">110±0,55</text>
<text x="359.6" y="666.95" font-size="12.5" font-weight="normal" text-anchor="middle" fill="#000" stroke="#000" stroke-width="0.25">115±0,7</text>
<text x="359.6" y="764.9" font-size="12.5" font-weight="normal" text-anchor="middle" fill="#000" stroke="#000" stroke-width="0.25">130±1</text>
<text x="359.6" y="827.75" font-size="12.5" font-weight="normal" text-anchor="middle" fill="#000" stroke="#000" stroke-width="0.25">160±0,7</text>
<text x="421.15" y="527.8" font-size="12.5" font-weight="normal" text-anchor="middle" fill="#000" stroke="#000" stroke-width="0.25">150±0,55</text>
<text x="421.15" y="666.95" font-size="12.5" font-weight="normal" text-anchor="middle" fill="#000" stroke="#000" stroke-width="0.25">180±0,7</text>
<text x="421.15" y="764.9" font-size="12.5" font-weight="normal" text-anchor="middle" fill="#000" stroke="#000" stroke-width="0.25">210±1</text>
<text x="421.15" y="827.75" font-size="12.5" font-weight="normal" text-anchor="middle" fill="#000" stroke="#000" stroke-width="0.25">280±0,7</text>
<text x="468.95" y="527.8" font-size="12.5" font-weight="normal" text-anchor="middle" fill="#000" stroke="#000" stroke-width="0.25">48</text>
<text x="468.95" y="666.95" font-size="12.5" font-weight="normal" text-anchor="middle" fill="#000" stroke="#000" stroke-width="0.25">75</text>
<text x="468.95" y="764.9" font-size="12.5" font-weight="normal" text-anchor="middle" fill="#000" stroke="#000" stroke-width="0.25">270</text>
<text x="468.95" y="827.75" font-size="12.5" font-weight="normal" text-anchor="middle" fill="#000" stroke="#000" stroke-width="0.25">105</text>
<text x="503.0" y="527.8" font-size="12.5" font-weight="normal" text-anchor="middle" fill="#000" stroke="#000" stroke-width="0.25">15</text>
<text x="503.0" y="666.95" font-size="12.5" font-weight="normal" text-anchor="middle" fill="#000" stroke="#000" stroke-width="0.25">22</text>
<text x="503.0" y="764.9" font-size="12.5" font-weight="normal" text-anchor="middle" fill="#000" stroke="#000" stroke-width="0.25">350</text>
<text x="503.0" y="827.75" font-size="12.5" font-weight="normal" text-anchor="middle" fill="#000" stroke="#000" stroke-width="0.25">25</text>
<text x="536.05" y="527.8" font-size="12.5" font-weight="normal" text-anchor="middle" fill="#000" stroke="#000" stroke-width="0.25">12</text>
<text x="536.05" y="666.95" font-size="12.5" font-weight="normal" text-anchor="middle" fill="#000" stroke="#000" stroke-width="0.25">15</text>
<text x="536.05" y="764.9" font-size="12.5" font-weight="normal" text-anchor="middle" fill="#000" stroke="#000" stroke-width="0.25">14</text>
<text x="536.05" y="827.75" font-size="12.5" font-weight="normal" text-anchor="middle" fill="#000" stroke="#000" stroke-width="0.25">19</text>
<text x="568.15" y="527.8" font-size="12.5" font-weight="normal" text-anchor="middle" fill="#000" stroke="#000" stroke-width="0.25">16</text>
<text x="568.15" y="666.95" font-size="12.5" font-weight="normal" text-anchor="middle" fill="#000" stroke="#000" stroke-width="0.25">18</text>
<text x="568.15" y="764.9" font-size="12.5" font-weight="normal" text-anchor="middle" fill="#000" stroke="#000" stroke-width="0.25">22</text>
<text x="568.15" y="827.75" font-size="12.5" font-weight="normal" text-anchor="middle" fill="#000" stroke="#000" stroke-width="0.25">28</text>
<text x="604.75" y="527.8" font-size="12.5" font-weight="normal" text-anchor="middle" fill="#000" stroke="#000" stroke-width="0.25">160</text>
<text x="604.75" y="666.95" font-size="12.5" font-weight="normal" text-anchor="middle" fill="#000" stroke="#000" stroke-width="0.25">175</text>
<text x="604.75" y="764.9" font-size="12.5" font-weight="normal" text-anchor="middle" fill="#000" stroke="#000" stroke-width="0.25">195</text>
<text x="604.75" y="827.75" font-size="12.5" font-weight="normal" text-anchor="middle" fill="#000" stroke="#000" stroke-width="0.25">235</text>
</svg></body></html>
